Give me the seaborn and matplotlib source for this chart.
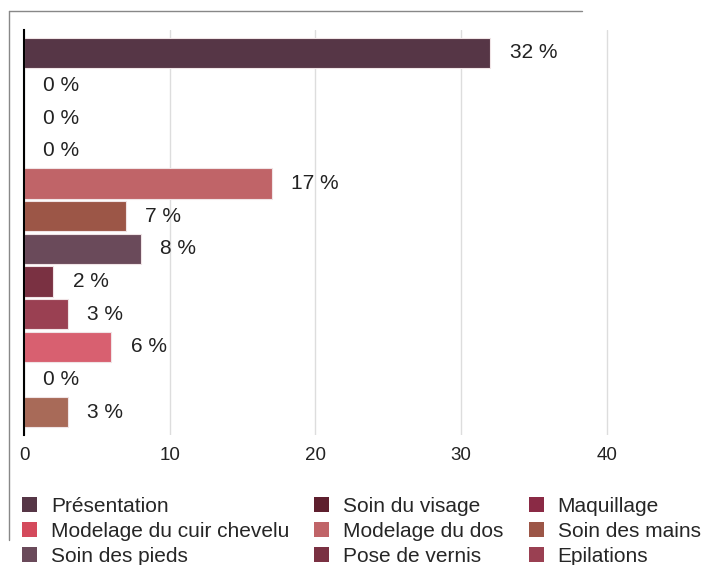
import matplotlib
matplotlib.use("Agg")
import matplotlib.pyplot as plt
from matplotlib.lines import Line2D
from matplotlib.patches import Patch
import seaborn as sns
import pandas as pd

# categories (the last three are not listed in the visible legend)
categories = ["Présentation", "Soin du visage", "Maquillage", "Modelage du cuir chevelu",
              "Modelage du dos", "Soin des mains", "Soin des pieds", "Pose de vernis",
              "Epilations", "Catégorie 10", "Catégorie 11", "Catégorie 12"]
values = [32, 0, 0, 0, 17, 7, 8, 2, 3, 6, 0, 3]
bar_colors = ["#563646", "#5e1f2e", "#8a2a45", "#d44a5c", "#c06468", "#9c5647",
              "#6a4a5a", "#7a3142", "#9a4052", "#d86070", "#b06a60", "#a86a58"]
n_legend = 9
x_ticks = [0, 10, 20, 30, 40]

sns.set_style("white")
plt.rcParams["font.family"] = ["Liberation Sans", "DejaVu Sans"]

df = pd.DataFrame({"cat": categories, "val": values})

fig = plt.figure(figsize=(7.05, 5.65), dpi=100)
ax = fig.add_axes([24 / 705, 1 - 435 / 565, 660 / 705, 405 / 565])

sns.barplot(data=df, x="val", y="cat", hue="cat", palette=bar_colors, orient="h",
            width=0.93, saturation=1, legend=False, edgecolor="#f0e4e6", linewidth=0.8, ax=ax)

for i, v in enumerate(values):
    ax.annotate(f"{v} %", xy=(v, i), xytext=(14, 0), textcoords="offset points",
                va="center", ha="left", fontsize=15, color="#222222")

ax.set_xlim(0, 45.3)
ax.set_ylim(11.7, -0.7)
ax.set_xticks(x_ticks)
ax.set_xticklabels([str(t) for t in x_ticks], fontsize=13.5, color="#222222")
ax.tick_params(axis="x", length=0, pad=9)
ax.set_yticks([])
ax.set_xlabel("")
ax.set_ylabel("")
ax.grid(axis="x", color="#dddddd", linewidth=1)
ax.set_axisbelow(True)
for s in ["top", "right", "bottom"]:
    ax.spines[s].set_visible(False)
ax.spines["left"].set_color("black")
ax.spines["left"].set_linewidth(1.5)

# legend read row by row: reorder for matplotlib's column filling
order = [0, 3, 6, 1, 4, 7, 2, 5, 8]
handles = [Patch(facecolor=bar_colors[i], edgecolor="none") for i in order]
labels = [categories[i] for i in order]
fig.legend(handles, labels, loc="upper left", bbox_to_anchor=(22 / 705, 1 - 497 / 565),
           ncol=3, frameon=False, fontsize=15, handlelength=0.72, handleheight=0.7,
           handletextpad=0.67, columnspacing=1.2, labelspacing=0.28, borderpad=0,
           borderaxespad=0)

# outer frame remnant (top and left edges)
fig.add_artist(Line2D([9 / 705, 582 / 705], [1 - 11 / 565, 1 - 11 / 565], color="#888888", lw=1))
fig.add_artist(Line2D([9 / 705, 9 / 705], [1 - 11 / 565, 1 - 540 / 565], color="#888888", lw=1))

fig.savefig("out.png", dpi=100)
